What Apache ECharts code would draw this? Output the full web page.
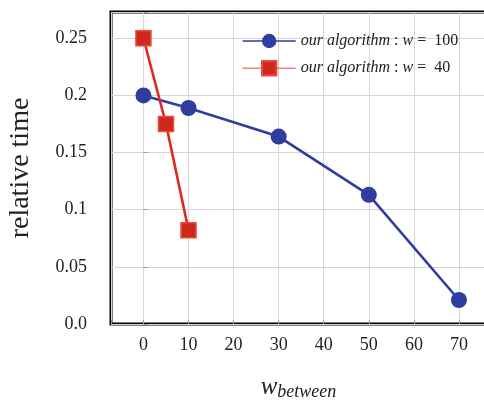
<!DOCTYPE html>
<html>
<head>
<meta charset="utf-8">
<script src="https://cdn.jsdelivr.net/npm/echarts@6/dist/echarts.min.js"></script>
<style>
  html, body { margin: 0; padding: 0; background: #fff; }
  #chart { width: 484px; height: 403px; }
</style>
</head>
<body>
<div id="chart"></div>
<script>
// 数据
const xW100 = [0, 10, 30, 50, 70];
const yW100 = [0.2, 0.189, 0.164, 0.113, 0.021];
const xW40 = [0, 5, 10];
const yW40 = [0.25, 0.175, 0.082];
const yTicks = ["0.0", "0.05", "0.1", "0.15", "0.2", "0.25"];

const serif = "'Liberation Serif', 'DejaVu Serif', serif";
const blue = "#2e3d9e";
const red = "#db2b1f";

function pairs(xs, ys) {
  return xs.map((x, i) => [x, ys[i]]);
}

let chart = echarts.init(document.getElementById("chart"));

let option = {
  animation: false,
  grid: {
    left: 111,
    top: 12,
    width: 375,
    height: 312,
    outerBoundsMode: "none",
    containLabel: false,
    show: true,
    borderColor: "#000",
    borderWidth: 3,
  },
  legend: {
    orient: "vertical",
    left: 237,
    top: 28,
    itemWidth: 53,
    itemHeight: 18,
    itemGap: 11,
    lineStyle: { width: 1.4 },
    data: [
      { name: "w100" },
      { name: "w40", lineStyle: { color: "#f0857c", width: 1.4 } },
    ],
    formatter: function (name) {
      let v = name === "w100" ? "100" : "40";
      return "{i|our algorithm} {r|:} {i|w} {r|=  " + v + "}";
    },
    textStyle: {
      fontFamily: serif,
      fontSize: 16,
      color: "#222",
      rich: {
        i: { fontFamily: serif, fontSize: 16, fontStyle: "italic", color: "#222" },
        r: { fontFamily: serif, fontSize: 16, color: "#222" },
      },
    },
  },
  xAxis: {
    type: "value",
    min: -7.2,
    max: 76,
    splitNumber: 8,
    name: "{w|w}{s|between}",
    nameLocation: "middle",
    nameGap: 50,
    nameTextStyle: {
      rich: {
        w: { fontFamily: serif, fontSize: 25, fontStyle: "italic", color: "#222" },
        s: { fontFamily: serif, fontSize: 18, fontStyle: "italic", color: "#222", padding: [9, 0, 0, 0] },
      },
    },
    axisLine: { show: false },
    axisTick: { show: true, inside: true, length: 4, lineStyle: { color: "#999" } },
    splitLine: { show: true, lineStyle: { color: "#d6d6d6", width: 1 } },
    axisLabel: {
      fontFamily: serif,
      fontSize: 18,
      color: "#222",
      margin: 12,
      formatter: function (v) {
        if (Math.abs(v - Math.round(v / 10) * 10) > 1e-6) return "";
        return String(Math.round(v));
      },
    },
  },
  yAxis: {
    type: "value",
    min: 0,
    max: 0.273,
    interval: 0.05,
    name: "relative time",
    nameLocation: "middle",
    nameGap: 76,
    nameTextStyle: { fontFamily: serif, fontSize: 28, color: "#222" },
    axisLine: { show: false },
    axisTick: { show: true, inside: true, length: 4, lineStyle: { color: "#999" } },
    splitLine: { show: true, lineStyle: { color: "#d6d6d6", width: 1 } },
    axisLabel: {
      fontFamily: serif,
      fontSize: 18,
      color: "#222",
      margin: 24,
      formatter: function (v) {
        let k = Math.round(v / 0.05);
        if (Math.abs(v - k * 0.05) > 1e-6) return "";
        return yTicks[k] || "";
      },
    },
  },
  series: [
    {
      name: "w100",
      type: "line",
      data: pairs(xW100, yW100),
      symbol: "circle",
      symbolSize: 16,
      itemStyle: { color: blue },
      lineStyle: { color: blue, width: 2.6 },
    },
    {
      name: "w40",
      type: "line",
      data: pairs(xW40, yW40),
      symbol: "rect",
      symbolSize: 15,
      itemStyle: { color: "#cf281c", borderColor: "#ea4a3c", borderWidth: 1.5 },
      lineStyle: { color: red, width: 2.6 },
    },
  ],
};

chart.setOption(option, true);
</script>
</body>
</html>
